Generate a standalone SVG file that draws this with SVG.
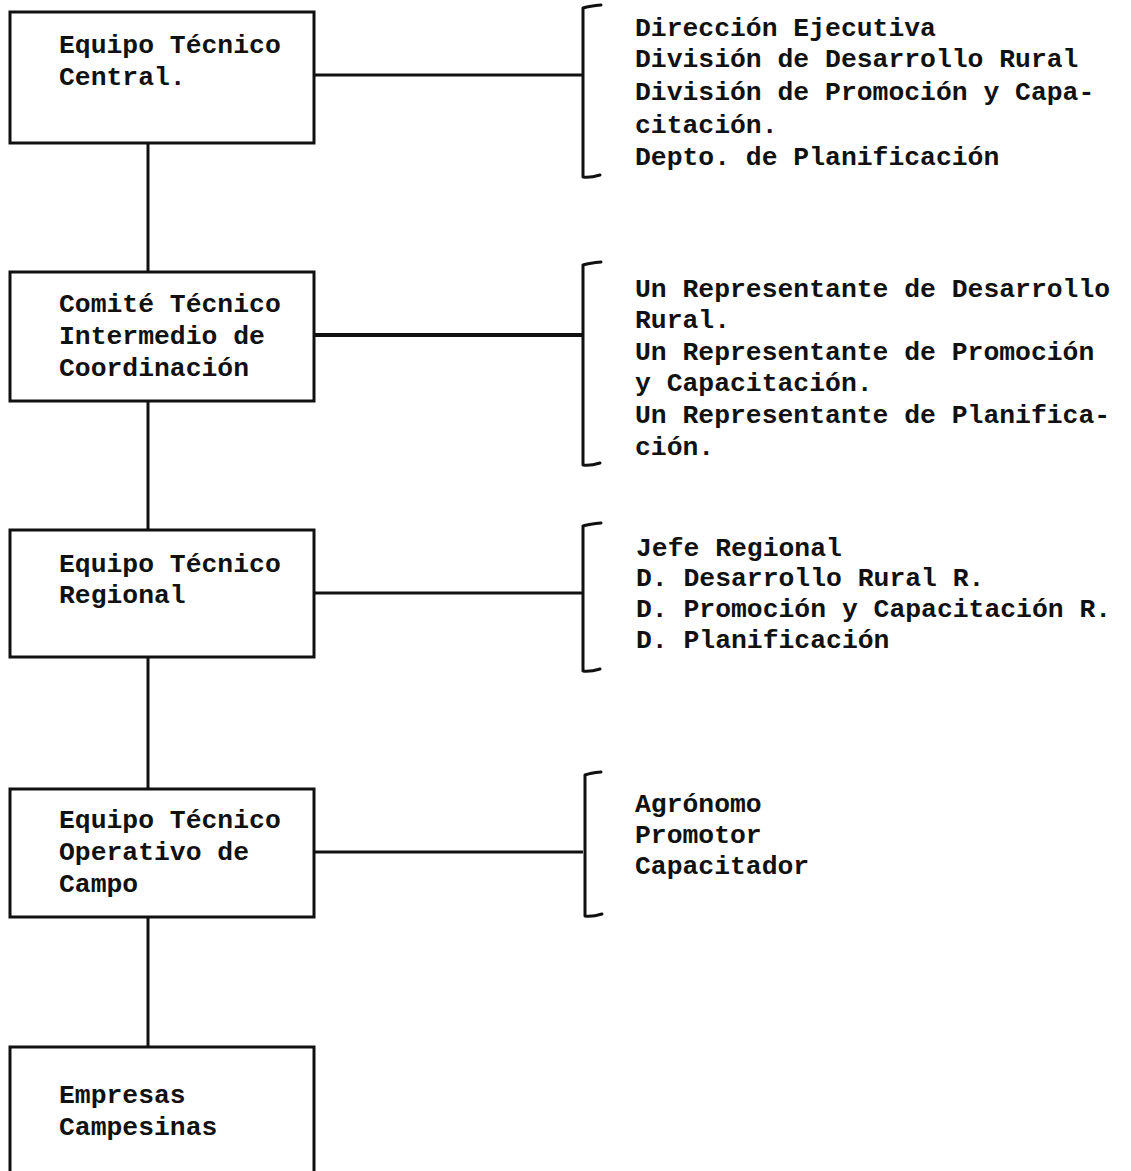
<svg xmlns="http://www.w3.org/2000/svg" width="1131" height="1171" viewBox="0 0 1131 1171">
<style>
.box{fill:none;stroke:#111;stroke-width:3}
.ln{fill:none;stroke:#111;stroke-width:3}
.br{fill:none;stroke:#111;stroke-width:3;stroke-linecap:round;stroke-linejoin:round}
text{font-family:"Liberation Mono","Courier New",monospace;font-size:26.4px;font-weight:bold;fill:#111}
</style>
<rect width="1131" height="1171" fill="#fff"/>
<g id="connectors">
<line class="ln" x1="148" y1="143" x2="148" y2="272"/>
<line class="ln" x1="148" y1="401" x2="148" y2="530"/>
<line class="ln" x1="148" y1="657" x2="148" y2="789"/>
<line class="ln" x1="148" y1="917" x2="148" y2="1047"/>
<line class="ln" x1="314" y1="75" x2="583" y2="75"/>
<line class="ln" x1="314" y1="335" x2="583" y2="335" style="stroke-width:4"/>
<line class="ln" x1="314" y1="593" x2="583" y2="593"/>
<line class="ln" x1="314" y1="852" x2="583" y2="852"/>
<path class="br" d="M601 5 Q590 6 583 8 L583 177 Q590 178 600 175"/>
<path class="br" d="M601 262 Q590 263 583 265 L583 465 Q590 466 600 463"/>
<path class="br" d="M601 523 Q590 524 583 526 L583 671 Q590 672 600 669"/>
<path class="br" d="M601 772 Q590 773 585 775 L585 916 Q592 917 602 914"/>
</g>
<g id="n1">
<rect class="box" x="10" y="12" width="304" height="131"/>
<text x="59" y="53">Equipo Técnico</text>
<text x="59" y="85">Central.</text>
</g>
<g id="n1-list">
<text x="635" y="36">Dirección Ejecutiva</text>
<text x="635" y="67">División de Desarrollo Rural</text>
<text x="635" y="100">División de Promoción y Capa-</text>
<text x="635" y="133">citación.</text>
<text x="635" y="165">Depto. de Planificación</text>
</g>
<g id="n2">
<rect class="box" x="10" y="272" width="304" height="129"/>
<text x="59" y="312">Comité Técnico</text>
<text x="59" y="344">Intermedio de</text>
<text x="59" y="376">Coordinación</text>
</g>
<g id="n2-list">
<text x="635" y="297">Un Representante de Desarrollo</text>
<text x="635" y="328">Rural.</text>
<text x="635" y="360">Un Representante de Promoción</text>
<text x="635" y="391">y Capacitación.</text>
<text x="635" y="423">Un Representante de Planifica-</text>
<text x="635" y="455">ción.</text>
</g>
<g id="n3">
<rect class="box" x="10" y="530" width="304" height="127"/>
<text x="59" y="572">Equipo Técnico</text>
<text x="59" y="603">Regional</text>
</g>
<g id="n3-list">
<text x="636" y="556">Jefe Regional</text>
<text x="636" y="586">D. Desarrollo Rural R.</text>
<text x="636" y="617">D. Promoción y Capacitación R.</text>
<text x="636" y="648">D. Planificación</text>
</g>
<g id="n4">
<rect class="box" x="10" y="789" width="304" height="128"/>
<text x="59" y="828">Equipo Técnico</text>
<text x="59" y="860">Operativo de</text>
<text x="59" y="892">Campo</text>
</g>
<g id="n4-list">
<text x="635" y="812">Agrónomo</text>
<text x="635" y="843">Promotor</text>
<text x="635" y="874">Capacitador</text>
</g>
<g id="n5">
<path class="box" d="M10 1175 L10 1047 L314 1047 L314 1175"/>
<text x="59" y="1103">Empresas</text>
<text x="59" y="1135">Campesinas</text>
</g>
</svg>
